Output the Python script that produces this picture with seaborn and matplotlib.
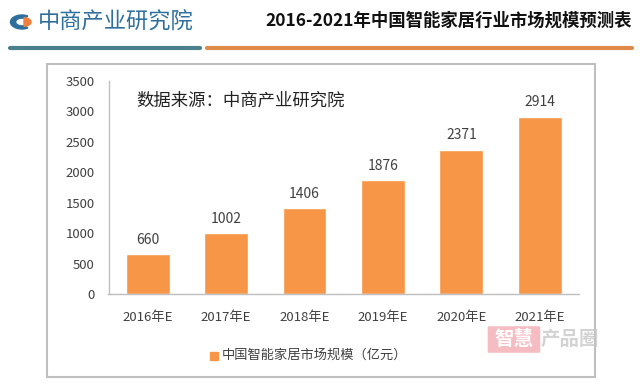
import pandas as pd
import matplotlib.pyplot as plt
import seaborn as sns
from matplotlib.patches import Rectangle, Wedge, FancyBboxPatch
from matplotlib.lines import Line2D

# dados do gráfico
anos = ["2016年E", "2017年E", "2018年E", "2019年E", "2020年E", "2021年E"]
valores = [660, 1002, 1406, 1876, 2371, 2914]
titulo = "2016-2021年中国智能家居行业市场规模预测表"
fonte = "数据来源：中商产业研究院"
serie = "中国智能家居市场规模（亿元）"
yticks = [0, 500, 1000, 1500, 2000, 2500, 3000, 3500]

sns.set_theme(style="white")
plt.rcParams['font.family'] = ['Noto Sans CJK SC', 'DejaVu Sans']

laranja = "#F79646"
cinza = "#404040"

df = pd.DataFrame({"ano": anos, "valor": valores})

W, H = 640, 389
fig = plt.figure(figsize=(6.4, 3.89), dpi=100)
fig.patch.set_facecolor("white")

def fx(x):
    return x / W

def fy(y):
    return 1 - y / H

# cabeçalho
fig.text(fx(38), fy(22), "中商产业研究院", fontsize=16, color="#2E6F9E",
         va="center", ha="left")
fig.text(fx(632), fy(21), titulo, fontsize=12.5, fontweight="bold",
         color="#111111", va="center", ha="right")
fig.add_artist(Wedge((fx(22), fy(22)), 0.018, 60, 300, width=0.008,
                     transform=fig.transFigure, color="#2E6F9E"))
fig.add_artist(Wedge((fx(24), fy(22)), 0.011, -90, 90,
                     transform=fig.transFigure, color="#F0803C"))
fig.add_artist(Line2D([fx(10), fx(200)], [fy(47.5), fy(47.5)],
                      transform=fig.transFigure, color="#4A7F8C", lw=3))
fig.add_artist(Line2D([fx(207), fx(632)], [fy(47.5), fy(47.5)],
                      transform=fig.transFigure, color="#E08A4A", lw=3))

# moldura do gráfico
fig.add_artist(Rectangle((fx(47), fy(377)), fx(595 - 47), (377 - 64) / H,
                         transform=fig.transFigure, fill=False,
                         edgecolor="#BFBFBF", lw=1.5))

ax = fig.add_axes([fx(108.5), fy(294), fx(579 - 108.5), (294 - 81) / H])
sns.barplot(data=df, x="ano", y="valor", color=laranja, width=0.56,
            saturation=1, ax=ax)
ax.set_xlim(-0.5, len(anos) - 0.5)
ax.set_ylim(0, 3500)
ax.set_yticks(yticks)
ax.set_xlabel("")
ax.set_ylabel("")
ax.tick_params(axis="both", length=0, labelsize=9.5, colors=cinza)
ax.tick_params(axis="x", pad=12)
ax.tick_params(axis="y", pad=10)
for lado in ["top", "right"]:
    ax.spines[lado].set_visible(False)
for lado in ["left", "bottom"]:
    ax.spines[lado].set_color("#BFBFBF")
    ax.spines[lado].set_linewidth(1)

for i, v in enumerate(valores):
    ax.text(i, v + 120, str(v), ha="center", va="bottom", fontsize=10,
            color=cinza)

ax.text(0.06, 0.91, fonte, transform=ax.transAxes, fontsize=12.5,
        style="italic", color="#222222", va="center")

# legenda
fig.add_artist(Rectangle((fx(210), fy(359.5)), fx(8), 8 / H,
                         transform=fig.transFigure, color=laranja))
fig.text(fx(222), fy(355), serie, fontsize=9.5, color=cinza,
         va="center", ha="left")

# marca d'água
fig.add_artist(FancyBboxPatch((fx(489), fy(352)), fx(50), 25 / H,
                              boxstyle="round,pad=0.002",
                              transform=fig.transFigure,
                              color="#F2A0A8", alpha=0.7, lw=0))
fig.text(fx(514), fy(339.5), "智慧", fontsize=14, fontweight="bold",
         color="white", ha="center", va="center")
fig.text(fx(541), fy(339.5), "产品圈", fontsize=14, fontweight="bold",
         color="#C8C8C8", alpha=0.8, ha="left", va="center")

fig.savefig("out.png", dpi=100, facecolor="white")
